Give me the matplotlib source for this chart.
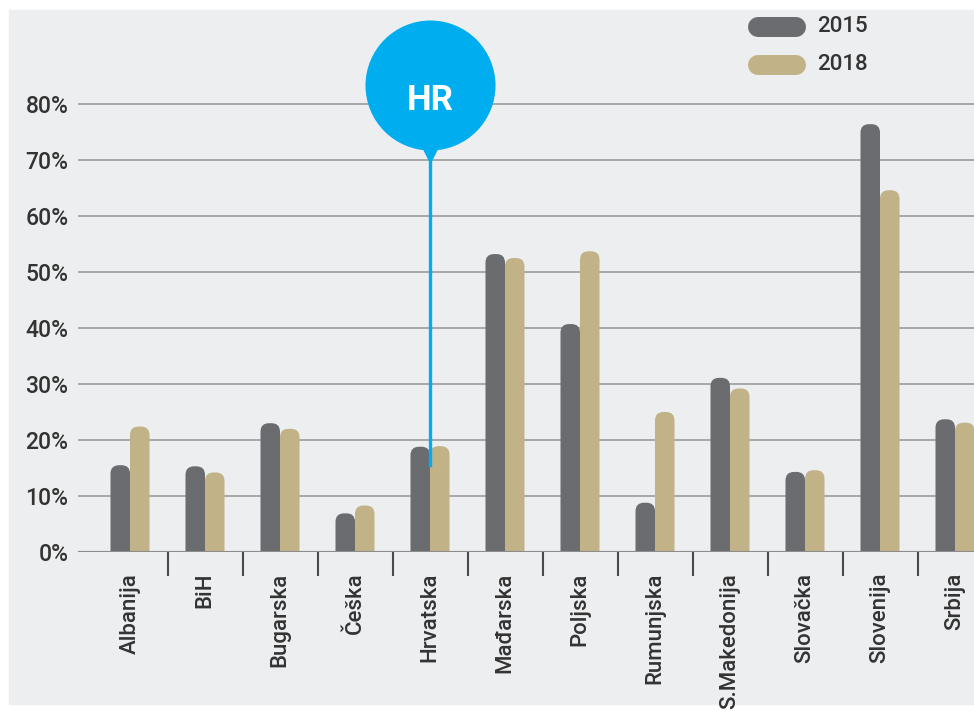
"""
Recria o gráfico de barras 2015 x 2018 por país, com o marcador HR.
"""
import matplotlib
matplotlib.use("Agg")
import matplotlib.pyplot as plt
from matplotlib.patches import FancyBboxPatch, Rectangle
from matplotlib.lines import Line2D

paises = ["Albanija", "BiH", "Bugarska", "Češka", "Hrvatska", "Mađarska",
          "Poljska", "Rumunjska", "S.Makedonija", "Slovačka", "Slovenija", "Srbija"]
v2015 = [15.5, 15.3, 23.0, 6.9, 18.8, 53.2, 40.7, 8.8, 31.1, 14.3, 76.4, 23.7]
v2018 = [22.4, 14.2, 22.0, 8.3, 18.9, 52.5, 53.7, 25.0, 29.2, 14.6, 64.6, 23.1]
anos = ["2015", "2018"]
destaque = "HR"
idx_destaque = paises.index("Hrvatska")

COR_2015 = "#6b6c70"
COR_2018 = "#c2b287"
COR_FUNDO = "#edeef0"
COR_GRADE = "#a2a2a2"
COR_TEXTO = "#333333"
COR_PIN = "#00aeef"
FONTE = ["Roboto", "DejaVu Sans"]

W, H = 974, 711
plt.rcParams["font.family"] = FONTE
plt.rcParams["font.weight"] = "medium"


def fx(px):
    return px / W


def fy(py):
    return 1 - py / H


fig = plt.figure(figsize=(W / 100, H / 100), dpi=100)
fig.patch.set_facecolor("white")
fig.add_artist(Rectangle((fx(9), fy(704)), 1 - fx(9), fy(10) - fy(704),
                         transform=fig.transFigure, color=COR_FUNDO, zorder=0))

# eixos: 0% em y=552 px, 10% = 56 px
ax = fig.add_axes([fx(78), fy(552), 1 - fx(78), fy(10) - fy(552)])
ax.set_facecolor("none")
px_y = 5.6          # px por ponto percentual
px_x = 75.0         # px por categoria
x0_px = 130.0       # centro da primeira categoria
ax.set_ylim(0, (552 - 10) / px_y)
ax.set_xlim((78 - x0_px) / px_x, (974 - x0_px) / px_x)

larg = 19.5 / px_x
xs = list(range(len(paises)))
aspecto = px_x / px_y
raio = 8.5 / px_x

for deslocamento, valores, cor in [(-larg / 2, v2015, COR_2015), (larg / 2, v2018, COR_2018)]:
    barras = ax.bar([x + deslocamento for x in xs], valores, larg, color=cor)
    for r in barras.patches:
        r.set_visible(False)
        topo = FancyBboxPatch((r.get_x(), -4), r.get_width(), r.get_height() + 4,
                              boxstyle=f"round,pad=0,rounding_size={raio}",
                              mutation_aspect=aspecto, facecolor=cor,
                              edgecolor="none", zorder=3)
        ax.add_patch(topo)

ax.set_yticks(range(0, 90, 10))
ax.set_yticklabels([f"{v}%" for v in range(0, 90, 10)])
ax.yaxis.grid(True, color=COR_GRADE, linewidth=1.3)
ax.set_axisbelow(True)
for s in ax.spines.values():
    s.set_visible(False)
ax.axhline(0, color="#8c8c8c", linewidth=1.5, zorder=4)

ax.set_xticks(xs)
ax.set_xticklabels(paises, rotation=90, va="top", ha="center")
ax.set_xticks([x + 0.5 for x in xs[:-1]], minor=True)
ax.tick_params(axis="x", which="major", length=0, pad=15,
               labelsize=16, labelcolor=COR_TEXTO)
ax.tick_params(axis="x", which="minor", length=17, width=1.5,
               color="#4a4a4a", direction="out")
ax.tick_params(axis="y", length=0, pad=7, labelsize=16.5, labelcolor=COR_TEXTO)

# marcador HR
xh = idx_destaque
ax.plot([xh, xh], [15.5, 70.5], color=COR_PIN, linewidth=2.4,
        clip_on=False, zorder=4)
ax.scatter([xh], [71.8], s=20 ** 2, marker="v", color=COR_PIN,
           linewidths=0, clip_on=False, zorder=5)
ax.scatter([xh], [(552 - 85) / px_y], s=(130 * 0.72) ** 2, color=COR_PIN,
           linewidths=0, clip_on=False, zorder=5)
ax.text(xh, (552 - 101) / px_y, destaque, color="white", fontsize=25,
        fontweight="bold", ha="center", va="center", zorder=6)

# legenda
for ano, cor, py in [(anos[0], COR_2015, 27), (anos[1], COR_2018, 65)]:
    fig.add_artist(Line2D([fx(758), fx(796)], [fy(py), fy(py)],
                          transform=fig.transFigure, color=cor,
                          linewidth=14.4, solid_capstyle="round"))
    fig.text(fx(817), fy(py), ano, fontsize=16, color=COR_TEXTO,
             va="center", ha="left")

fig.savefig("out.png", dpi=100)
